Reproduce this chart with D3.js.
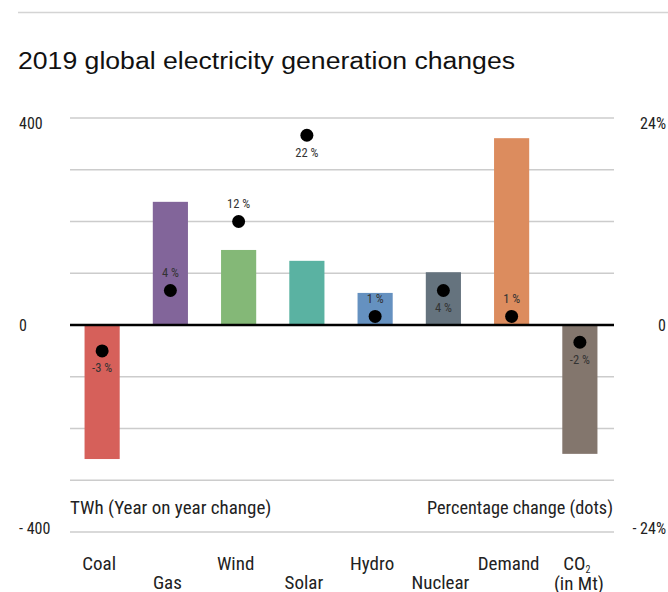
<!DOCTYPE html>
<html>
<head>
<meta charset="utf-8">
<script src="https://cdn.jsdelivr.net/npm/d3@7"></script>
<style>
  html, body { margin: 0; padding: 0; background: #fff; }
  svg { display: block; }
  .narrow { font-family: "Liberation Sans Narrow", "Roboto Condensed", "DejaVu Sans Condensed", sans-serif; }
</style>
</head>
<body>
<svg id="chart" width="668" height="592"></svg>
<script>
// Year-on-year change in global electricity generation, 2019
const categories = ["Coal", "Gas", "Wind", "Solar", "Hydro", "Nuclear", "Demand", "CO2"];
const twhChange = [-259, 238, 145, 124, 62, 102, 361, -249];      // bars, TWh (CO2 in Mt)
const pctChange = [-3, 4, 12, 22, 1, 4, 1, -2];                    // dots, %
const pctLabelSide = ["below", "above", "above", "below", "above", "below", "above", "below"];
const barColors = ["#d6605a", "#82659a", "#84b877", "#5ab2a2", "#6591c0", "#65737e", "#dc8c5e", "#83766d"];
const twhTicks = [400, 0, -400];
const pctTicks = [24, 0, -24];
const gridValues = [-400, -300, -200, -100, 100, 200, 300, 400];

const svg = d3.select("#chart");

const x = d3.scaleBand().domain(categories).range([68, 614]).paddingInner(0.485).paddingOuter(0.2425);
const y = d3.scaleLinear().domain([-400, 400]).range([532, 118]);
const yPct = d3.scaleLinear().domain([-24, 24]).range([532, 118]);
const yTickLabel = d3.scaleLinear().domain([-400, 400]).range([528, 123]);
const yPctTickLabel = d3.scaleLinear().domain([-24, 24]).range([528, 123]);

// top rule
svg.append("line").attr("x1", 18).attr("x2", 668).attr("y1", 12.5).attr("y2", 12.5)
  .attr("stroke", "#d4d4d4").attr("stroke-width", 1.5);

// title
svg.append("text").attr("x", 18).attr("y", 69)
  .attr("font-family", "'Liberation Sans', Arial, sans-serif").attr("font-size", 23).attr("fill", "#111")
  .attr("textLength", 497).attr("lengthAdjust", "spacingAndGlyphs")
  .text("2019 global electricity generation changes");

// gridlines
svg.append("g").selectAll("line").data(gridValues).join("line")
  .attr("x1", 70).attr("x2", 614)
  .attr("y1", d => y(d)).attr("y2", d => y(d))
  .attr("stroke", "#cccccc").attr("stroke-width", 1.5);

// left axis labels
svg.append("g").attr("class", "narrow").selectAll("text").data(twhTicks).join("text")
  .attr("x", 19).attr("y", d => yTickLabel(d)).attr("dy", "0.35em")
  .attr("font-size", 16).attr("fill", "#222")
  .text(d => d < 0 ? "- " + Math.abs(d) : d);

// right axis labels
svg.append("g").attr("class", "narrow").selectAll("text").data(pctTicks).join("text")
  .attr("x", 666).attr("y", d => yPctTickLabel(d)).attr("dy", "0.35em")
  .attr("text-anchor", "end").attr("font-size", 16).attr("fill", "#222")
  .text(d => d === 0 ? "0" : (d < 0 ? "- " + Math.abs(d) + "%" : d + "%"));

// bars
svg.append("g").selectAll("rect").data(categories).join("rect")
  .attr("x", d => x(d))
  .attr("width", x.bandwidth())
  .attr("y", (d, i) => y(Math.max(0, twhChange[i])))
  .attr("height", (d, i) => Math.abs(y(twhChange[i]) - y(0)))
  .attr("fill", (d, i) => barColors[i]);

// zero line
svg.append("line").attr("x1", 70).attr("x2", 614).attr("y1", y(0)).attr("y2", y(0))
  .attr("stroke", "#000").attr("stroke-width", 2.5);

// percentage dots
svg.append("g").selectAll("circle").data(categories).join("circle")
  .attr("cx", d => x(d) + x.bandwidth() / 2)
  .attr("cy", (d, i) => yPct(pctChange[i]))
  .attr("r", 6.5).attr("fill", "#000");

// percentage labels
svg.append("g").attr("class", "narrow").selectAll("text").data(categories).join("text")
  .attr("x", d => x(d) + x.bandwidth() / 2)
  .attr("y", (d, i) => yPct(pctChange[i]) + (pctLabelSide[i] === "above" ? -18 : 17))
  .attr("dy", "0.35em").attr("text-anchor", "middle")
  .attr("font-size", 12.5).attr("fill", "#333")
  .text((d, i) => pctChange[i] + " %");

// axis captions
svg.append("text").attr("class", "narrow").attr("x", 70).attr("y", 514)
  .attr("font-size", 19).attr("fill", "#222").text("TWh (Year on year change)");
svg.append("text").attr("class", "narrow").attr("x", 613).attr("y", 514)
  .attr("text-anchor", "end").attr("font-size", 19).attr("fill", "#222")
  .attr("textLength", 186).attr("lengthAdjust", "spacingAndGlyphs")
  .text("Percentage change (dots)");

// category labels, staggered on two rows
const catLabels = svg.append("g").attr("class", "narrow").attr("font-size", 19).attr("fill", "#222");
catLabels.selectAll("text").data(categories).join("text")
  .attr("x", d => x(d) + x.bandwidth() / 2 - 3)
  .attr("y", (d, i) => (d === "CO2" || i % 2 === 0) ? 570 : 589)
  .attr("text-anchor", "middle")
  .each(function (d) {
    const t = d3.select(this);
    if (d === "CO2") {
      t.append("tspan").text("CO");
      t.append("tspan").attr("font-size", 10).attr("dy", 3).text("2");
    } else {
      t.text(d);
    }
  });
catLabels.append("text")
  .attr("x", x("CO2") + x.bandwidth() / 2 - 1).attr("y", 590)
  .attr("text-anchor", "middle").text("(in Mt)");
</script>
</body>
</html>
